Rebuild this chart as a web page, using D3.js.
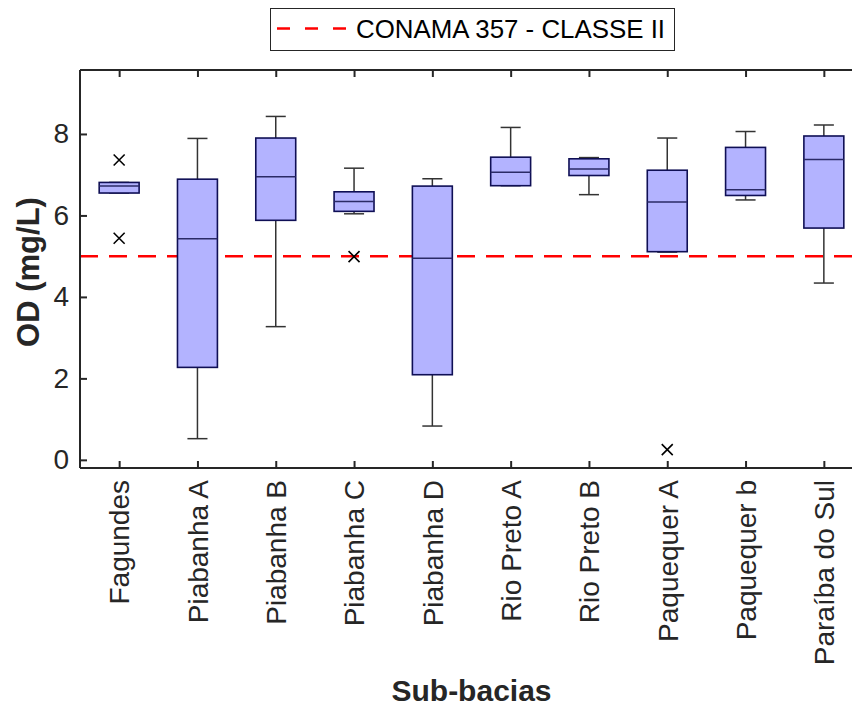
<!DOCTYPE html>
<html>
<head>
<meta charset="utf-8">
<script src="https://cdn.jsdelivr.net/npm/d3@7"></script>
<style>
  html, body { margin: 0; padding: 0; background: #fff; }
  svg { display: block; }
  text { font-family: "Liberation Sans", Arial, Helvetica, sans-serif; }
</style>
</head>
<body>
<svg id="chart" width="852" height="709"></svg>
<script>
// Dissolved oxygen (OD) by sub-basin: box statistics
const categories = ["Fagundes", "Piabanha A", "Piabanha B", "Piabanha C", "Piabanha D",
                    "Rio Preto A", "Rio Preto B", "Paquequer A", "Paquequer b", "Paraíba do Sul"];
const whiskerLow  = [6.55, 0.52, 3.27, 6.04, 0.83, 6.73, 6.51, 5.10, 6.38, 4.34];
const q1          = [6.55, 2.27, 5.88, 6.10, 2.09, 6.73, 6.98, 5.11, 6.49, 5.69];
const median      = [6.72, 5.43, 6.95, 6.34, 4.95, 7.06, 7.14, 6.33, 6.63, 7.37];
const q3          = [6.81, 6.89, 7.90, 6.58, 6.72, 7.43, 7.39, 7.11, 7.67, 7.95];
const whiskerHigh = [6.81, 7.89, 8.43, 7.16, 6.90, 8.16, 7.42, 7.90, 8.06, 8.22];
// outliers as [category index, value]
const outliers = [[0, 7.36], [0, 5.44], [3, 4.99], [7, 0.25]];
const yTicks = [0, 2, 4, 6, 8];
const limitValue = 5;
const limitLabel = "CONAMA 357 - CLASSE II";

const svg = d3.select("#chart");
const axisColor = "#262626";
const plot = { left: 80, right: 863, top: 70, bottom: 468 };

const x = d3.scaleLinear().domain([0.5, 10.5]).range([plot.left, plot.right]);
const y = d3.scaleLinear().domain([-0.2, 9.57]).range([plot.bottom, plot.top]);

const boxHalf = 0.255, capHalf = 0.128;

const g = svg.append("g");

// reference limit line
g.append("line")
  .attr("x1", plot.left).attr("x2", 852)
  .attr("y1", y(limitValue)).attr("y2", y(limitValue))
  .attr("stroke", "#ff0000").attr("stroke-width", 2.5)
  .attr("stroke-dasharray", "18,11");

const boxes = g.selectAll("g.box").data(categories).join("g").attr("class", "box");

// whiskers
boxes.append("line")
  .attr("x1", (d, i) => x(i + 1)).attr("x2", (d, i) => x(i + 1))
  .attr("y1", (d, i) => y(whiskerHigh[i])).attr("y2", (d, i) => y(q3[i]))
  .attr("stroke", "#333").attr("stroke-width", 1.5);
boxes.append("line")
  .attr("x1", (d, i) => x(i + 1)).attr("x2", (d, i) => x(i + 1))
  .attr("y1", (d, i) => y(q1[i])).attr("y2", (d, i) => y(whiskerLow[i]))
  .attr("stroke", "#333").attr("stroke-width", 1.5);
// caps
[whiskerHigh, whiskerLow].forEach(arr => {
  boxes.append("line")
    .attr("x1", (d, i) => x(i + 1 - capHalf)).attr("x2", (d, i) => x(i + 1 + capHalf))
    .attr("y1", (d, i) => y(arr[i])).attr("y2", (d, i) => y(arr[i]))
    .attr("stroke", "#333").attr("stroke-width", 1.5);
});
// box body
boxes.append("rect")
  .attr("x", (d, i) => x(i + 1 - boxHalf))
  .attr("width", (d, i) => x(i + 1 + boxHalf) - x(i + 1 - boxHalf))
  .attr("y", (d, i) => y(q3[i]))
  .attr("height", (d, i) => y(q1[i]) - y(q3[i]))
  .attr("fill", "#b3b3ff").attr("stroke", "#0f0f55").attr("stroke-width", 1.6);
// median
boxes.append("line")
  .attr("x1", (d, i) => x(i + 1 - boxHalf)).attr("x2", (d, i) => x(i + 1 + boxHalf))
  .attr("y1", (d, i) => y(median[i])).attr("y2", (d, i) => y(median[i]))
  .attr("stroke", "#2a2a66").attr("stroke-width", 1.5);

// outlier markers (x)
const m = 5.5;
g.selectAll("path.outlier").data(outliers).join("path").attr("class", "outlier")
  .attr("d", d => {
    const cx = x(d[0] + 1), cy = y(d[1]);
    return `M${cx - m},${cy - m}L${cx + m},${cy + m}M${cx - m},${cy + m}L${cx + m},${cy - m}`;
  })
  .attr("stroke", "#000").attr("stroke-width", 1.6).attr("fill", "none");

// axes frame
const frame = svg.append("g");
frame.append("line").attr("x1", plot.left).attr("x2", 852).attr("y1", plot.top).attr("y2", plot.top)
  .attr("stroke", axisColor).attr("stroke-width", 2);
frame.append("line").attr("x1", plot.left).attr("x2", 852).attr("y1", plot.bottom).attr("y2", plot.bottom)
  .attr("stroke", axisColor).attr("stroke-width", 2);
frame.append("line").attr("x1", plot.left).attr("x2", plot.left).attr("y1", plot.top).attr("y2", plot.bottom)
  .attr("stroke", axisColor).attr("stroke-width", 2);

// left axis (inward ticks)
const yAxis = d3.axisLeft(y).tickValues(yTicks).tickSize(-7).tickPadding(11).tickFormat(d3.format("d"));
const ya = svg.append("g").attr("transform", `translate(${plot.left},0)`).call(yAxis);
ya.select(".domain").remove();
ya.selectAll("line").attr("stroke", axisColor).attr("stroke-width", 2);
ya.selectAll("text").attr("fill", axisColor).style("font-size", "28px").attr("x", -11);

// bottom axis (inward ticks), rotated labels
const xAxis = d3.axisBottom(x).tickValues(d3.range(1, 11)).tickSize(-7)
  .tickFormat(d => categories[d - 1]);
const xa = svg.append("g").attr("transform", `translate(0,${plot.bottom})`).call(xAxis);
xa.select(".domain").remove();
xa.selectAll("line").attr("stroke", axisColor).attr("stroke-width", 2);
xa.selectAll("text").attr("fill", axisColor).style("font-size", "28px")
  .attr("text-anchor", "end")
  .attr("transform", "rotate(-90)")
  .attr("x", -12).attr("y", 0).attr("dy", "0.35em");

// top axis mirror ticks
const xTop = d3.axisTop(x).tickValues(d3.range(1, 11)).tickSize(-7).tickFormat("");
const xt = svg.append("g").attr("transform", `translate(0,${plot.top})`).call(xTop);
xt.select(".domain").remove();
xt.selectAll("line").attr("stroke", axisColor).attr("stroke-width", 2);

// axis titles
svg.append("text")
  .attr("transform", `translate(39,${(plot.top + plot.bottom) / 2 + 3}) rotate(-90)`)
  .attr("text-anchor", "middle")
  .attr("fill", axisColor).style("font-size", "31px").style("font-weight", "bold")
  .text("OD (mg/L)");
svg.append("text")
  .attr("x", (plot.left + plot.right) / 2).attr("y", 701)
  .attr("text-anchor", "middle")
  .attr("fill", axisColor).style("font-size", "30px").style("font-weight", "bold")
  .text("Sub-bacias");

// legend
const lg = svg.append("g");
lg.append("rect").attr("x", 270.5).attr("y", 8.5).attr("width", 404).attr("height", 42)
  .attr("fill", "#fff").attr("stroke", axisColor).attr("stroke-width", 1);
lg.append("line").attr("x1", 277).attr("x2", 349).attr("y1", 28.5).attr("y2", 28.5)
  .attr("stroke", "#ff0000").attr("stroke-width", 2.5).attr("stroke-dasharray", "13,15");
lg.append("text").attr("x", 356).attr("y", 37.5)
  .attr("fill", "#000").style("font-size", "25px")
  .attr("textLength", 309).attr("lengthAdjust", "spacingAndGlyphs")
  .text(limitLabel);
</script>
</body>
</html>
